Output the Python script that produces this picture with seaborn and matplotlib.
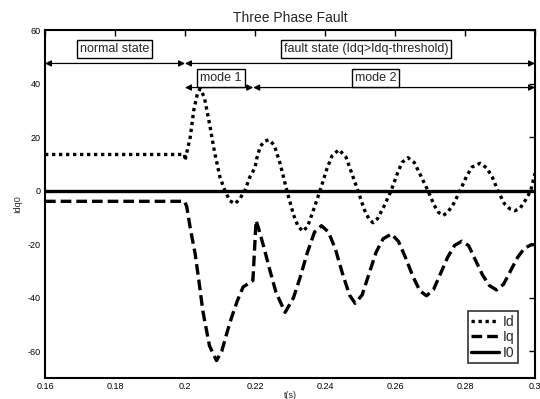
import numpy as np
import pandas as pd
import matplotlib
matplotlib.use("Agg")
import matplotlib.pyplot as plt
import seaborn as sns
from matplotlib.ticker import FormatStrFormatter

# ---- data ----
id_t = [0.16, 0.1999, 0.2, 0.2015, 0.2025, 0.2035, 0.2043, 0.2055, 0.207, 0.2085, 0.21, 0.2114,
        0.2128, 0.2143, 0.2157, 0.2171, 0.2185, 0.22, 0.2205, 0.2215, 0.2228, 0.224, 0.2255, 0.2272,
        0.2291, 0.231, 0.2322, 0.2336, 0.235, 0.2365, 0.2386, 0.2405, 0.242, 0.244, 0.246, 0.2475,
        0.2494, 0.2512, 0.2525, 0.2537, 0.255, 0.2568, 0.2589, 0.2607, 0.262, 0.2637, 0.2655, 0.2672,
        0.2694, 0.2712, 0.2725, 0.2737, 0.275, 0.2767, 0.2786, 0.2805, 0.282, 0.2843, 0.2862, 0.2878,
        0.2894, 0.2912, 0.2928, 0.2943, 0.2958, 0.2973, 0.2988, 0.3]
id_v = [13.5, 13.5, 11.2, 20, 30, 36, 38, 35, 25, 14, 5, 0,
        -3.8, -4.9, -3, 0, 5, 8.6, 12, 16.5, 18.5, 19, 17, 10,
        0, -9, -13, -15.2, -13.5, -8, 0, 8, 13, 15.3, 12.5, 7,
        0, -7, -10.5, -12, -10.5, -6, 0, 6.5, 10.5, 12.3, 10.5, 6,
        0, -5.5, -8.2, -9.3, -8.2, -5, 0, 5.5, 8.8, 10.2, 8.5, 5,
        0, -4.8, -6.8, -7.5, -6.5, -3.5, 0, 6.5]

iq_t = [0.16, 0.1999, 0.2005, 0.2015, 0.2029, 0.204, 0.2051, 0.207, 0.209, 0.2105, 0.212, 0.2133,
        0.215, 0.2166, 0.2194, 0.2203, 0.221, 0.2225, 0.2243, 0.226, 0.2286, 0.231, 0.2329, 0.235,
        0.237, 0.239, 0.241, 0.243, 0.245, 0.247, 0.2486, 0.2506, 0.2526, 0.2546, 0.2566, 0.259,
        0.261, 0.263, 0.2651, 0.2671, 0.269, 0.271, 0.273, 0.275, 0.277, 0.2791, 0.281, 0.283,
        0.285, 0.287, 0.289, 0.291, 0.293, 0.295, 0.297, 0.299, 0.3]
iq_v = [-4, -4, -6, -14, -23.6, -34, -45, -58, -63.5, -60, -53, -47.4,
        -41, -36, -33.6, -11.2, -14, -21, -30, -38, -45.5, -40, -32.4, -23,
        -15.5, -13.1, -15.5, -22, -31, -39, -42.1, -39, -31, -23, -18, -16.2,
        -19, -25, -32, -37.4, -39.3, -37, -31, -25, -20.5, -18.9, -20.5, -26,
        -31.5, -35.5, -37.1, -35, -30, -25, -21.5, -20.2, -20.2]

i0_t = [0.16, 0.3]
i0_v = [0.0, 0.0]

series_names = ["Id", "Iq", "I0"]
x_ticks = [0.16, 0.18, 0.2, 0.22, 0.24, 0.26, 0.28, 0.3]
y_ticks = [-60, -40, -20, 0, 20, 40, 60]

df = pd.concat([
    pd.DataFrame({"t": id_t, "v": id_v, "s": "Id"}),
    pd.DataFrame({"t": iq_t, "v": iq_v, "s": "Iq"}),
    pd.DataFrame({"t": i0_t, "v": i0_v, "s": "I0"}),
], ignore_index=True)

sns.set_style("white")
plt.rcParams["font.family"] = ["Liberation Sans", "DejaVu Sans"]
plt.rcParams["axes.unicode_minus"] = False

fig = plt.figure(figsize=(5.4, 3.99), dpi=100)
ax = fig.add_axes([45 / 540, 21 / 399, 490 / 540, 348 / 399])

sns.lineplot(data=df, x="t", y="v", hue="s", style="s", hue_order=series_names,
             style_order=series_names, palette=["black"] * 3,
             dashes={"Id": (1, 1.1), "Iq": (3.2, 1.5), "I0": ""},
             estimator=None, sort=False, linewidth=2.4, ax=ax)

ax.set_xlim(0.16, 0.3)
ax.set_ylim(-70, 60)
ax.set_xticks(x_ticks)
ax.set_yticks(y_ticks)
ax.xaxis.set_major_formatter(FormatStrFormatter("%g"))
ax.tick_params(direction="in", length=4, width=1, labelsize=6.5, top=True, right=True,
               colors="black", pad=3)
for sp in ax.spines.values():
    sp.set_color("black")
    sp.set_linewidth(1.5)

ax.set_title("Three Phase Fault", fontsize=10, pad=6)
ax.set_xlabel("t(s)", fontsize=6.5, labelpad=0)
ax.set_ylabel("Idq0", fontsize=6.5, labelpad=4)

leg = ax.legend(loc="lower right", fontsize=10, frameon=True, fancybox=False,
                handlelength=2.0, borderpad=0.25, labelspacing=0.1, handletextpad=0.3,
                borderaxespad=0, bbox_to_anchor=(0.966, 0.043))
leg.get_frame().set_edgecolor("black")
leg.get_frame().set_linewidth(1.2)

arrow = dict(arrowstyle="<|-|>", color="black", lw=0.9, mutation_scale=9, shrinkA=0, shrinkB=0)
ax.annotate("", xy=(0.16, 47.5), xytext=(0.2, 47.5), arrowprops=arrow)
ax.annotate("", xy=(0.2, 47.5), xytext=(0.3, 47.5), arrowprops=arrow)
ax.annotate("", xy=(0.2, 38.5), xytext=(0.2195, 38.5), arrowprops=arrow)
ax.annotate("", xy=(0.2195, 38.5), xytext=(0.3, 38.5), arrowprops=arrow)

box = dict(boxstyle="square,pad=0.25", facecolor="white", edgecolor="black", lw=1)
ax.text(0.1798, 53, "normal state", fontsize=9, ha="center", va="center", bbox=box)
ax.text(0.2517, 53, "fault state (Idq>Idq-threshold)", fontsize=9, ha="center", va="center", bbox=box)
ax.text(0.2102, 42, "mode 1", fontsize=9, ha="center", va="center", bbox=box)
ax.text(0.2544, 42, "mode 2", fontsize=9, ha="center", va="center", bbox=box)

fig.savefig("out.png", dpi=100)
